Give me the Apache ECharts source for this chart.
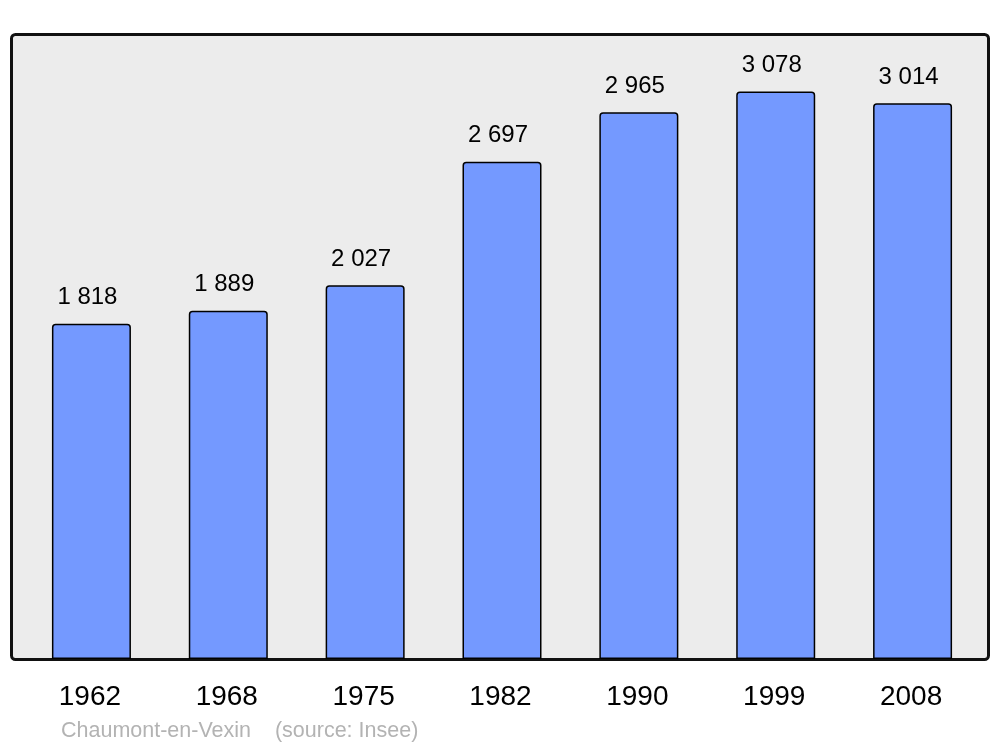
<!DOCTYPE html>
<html>
<head>
<meta charset="utf-8">
<script src="https://cdn.jsdelivr.net/npm/echarts@6/dist/echarts.min.js"></script>
<style>
  html, body { margin: 0; padding: 0; background: #fff; }
  #main { width: 1000px; height: 747px; }
</style>
</head>
<body>
<div id="main"></div>
<script>
// données population
var years = ['1962', '1968', '1975', '1982', '1990', '1999', '2008'];
var population = [1818, 1889, 2027, 2697, 2965, 3078, 3014];
var sourceText = 'Chaumont-en-Vexin    (source: Insee)';

function fmt(v) {
  return String(v).replace(/\B(?=(\d{3})+(?!\d))/g, ' ');
}

var myChart = echarts.init(document.getElementById('main'));
myChart.setOption({
  animation: false,
  textStyle: { fontFamily: 'Liberation Sans, Arial, sans-serif' },
  grid: { left: 23, right: 19, top: 34, bottom: 88 },
  graphic: [{
    type: 'rect',
    z: -10,
    silent: true,
    shape: { x: 11.5, y: 34.5, width: 977, height: 625, r: 4 },
    style: { fill: '#ececec', stroke: '#111', lineWidth: 3 }
  }, {
    type: 'text',
    left: 61,
    top: 720,
    silent: true,
    style: {
      text: sourceText,
      fill: '#b3b3b3',
      fontSize: 21.5,
      fontFamily: 'Liberation Sans, Arial, sans-serif'
    }
  }],
  xAxis: {
    type: 'category',
    data: years,
    axisLine: { show: false },
    axisTick: { show: false },
    axisLabel: {
      color: '#000',
      fontSize: 28,
      margin: 24,
      padding: [0, 3, 0, 0]
    }
  },
  yAxis: {
    type: 'value',
    min: 0,
    max: 3390,
    show: false,
    splitLine: { show: false }
  },
  series: [{
    name: 'population',
    type: 'bar',
    data: population,
    barWidth: 79,
    itemStyle: {
      color: '#7499ff',
      borderColor: '#000',
      borderWidth: 1.5,
      borderRadius: [3, 3, 0, 0]
    },
    label: {
      show: true,
      position: 'top',
      distance: 14,
      offset: [-4, 0],
      color: '#000',
      fontSize: 24,
      formatter: function (p) { return fmt(p.value); }
    }
  }]
});
</script>
</body>
</html>
